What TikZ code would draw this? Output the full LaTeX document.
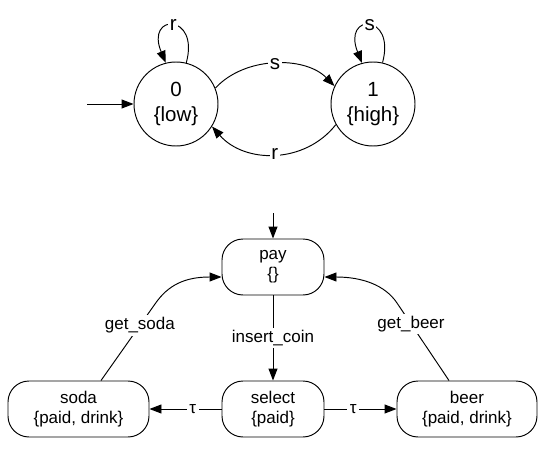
\documentclass[tikz,border=0pt]{standalone}
\usepackage{fontspec}
\setmainfont{Liberation Sans}
\usetikzlibrary{arrows.meta}
\begin{document}
\begin{tikzpicture}[x=1pt,y=-1pt,line width=0.95pt,
  arr/.style={-{Triangle[length=12pt,width=9pt]}},
  state/.style={circle,draw,minimum size=84pt,inner sep=0pt,align=center,font=\fontsize{20.5}{25}\selectfont},
  box/.style={rectangle,rounded corners=21pt,draw,minimum height=56pt,align=center,inner sep=0pt,font=\fontsize{17}{20}\selectfont},
  lbl/.style={fill=white,inner sep=2.5pt,font=\fontsize{17}{20}\selectfont},
  slbl/.style={fill=white,inner sep=1.5pt,font=\fontsize{20.5}{25}\selectfont}]
\useasboundingbox (0,0) rectangle (542,463);

% top automaton
\node[state] (c0) at (176,104) {0\\\{low\}};
\node[state] (c1) at (373,104) {1\\\{high\}};
\coordinate (init) at (87,104);
\draw[arr] (init) -- (c0);
\draw[arr] (c0.76) .. controls (200,13) and (145,13) .. node[slbl,pos=0.5] {r} (c0.104);
\draw[arr] (c1.77) .. controls (396,13) and (342,13) .. node[slbl,pos=0.5] {s} (c1.105);
\draw[arr] (c0.22) .. controls (245,56) and (305,56) .. node[slbl,pos=0.5] {s} (c1.155);
\draw[arr] (c1.209) .. controls (305,164) and (245,164) .. node[slbl,pos=0.5] {r} (c0.328);

% bottom automaton
\node[box,minimum width=102pt] (pay) at (273,267) {pay\\\{\}};
\node[box,minimum width=102pt] (select) at (273,409) {select\\\{paid\}};
\node[box,minimum width=141pt] (soda) at (78.5,409) {soda\\\{paid, drink\}};
\node[box,minimum width=140pt] (beer) at (467,409) {beer\\\{paid, drink\}};
\coordinate (payin) at (273,213);
\draw[arr] (payin) -- (pay);
\draw[arr] (pay) -- node[lbl,pos=0.5] {insert\_coin} (select);
\draw[arr] (select) -- node[lbl,pos=0.4] {τ} (soda);
\draw[arr] (select) -- node[lbl,pos=0.4] {τ} (beer);
\draw[arr] ([xshift=22.5pt]soda.north) -- node[lbl,pos=0.72] {get\_soda} (155,304)
  .. controls (168,285) and (185,277) .. ([yshift=-10pt]pay.west);
\draw[arr] ([xshift=-18pt]beer.north) -- node[lbl,pos=0.73] {get\_beer} (397,303)
  .. controls (385,285) and (362,277) .. ([yshift=-10pt]pay.east);
\end{tikzpicture}
\end{document}
